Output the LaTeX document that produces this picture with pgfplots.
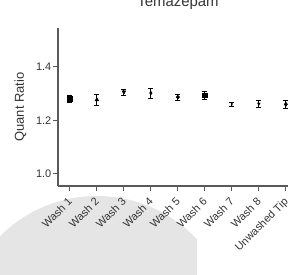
\documentclass[border=0pt]{standalone}
\usepackage{fontspec}
\setmainfont{Liberation Sans}
\usepackage{pgfplots}
\pgfplotsset{compat=1.18}
\begin{document}
\begin{tikzpicture}[x=1bp,y=1bp]
\clip (0,0) rectangle (288,275);
% light grey background blob (as in reference)
\begin{scope}
\clip (0,0) rectangle (197,275);
\fill[black!10] (97,-58) circle (137);
\end{scope}
\begin{axis}[
  at={(58bp,89bp)}, anchor=south west,
  scale only axis, width=241.9bp, height=158bp,
  xmin=-0.44, xmax=8.52, ymin=0.955, ymax=1.545,
  axis x line*=bottom, axis y line*=left,
  axis line style={line width=1.1bp, black!65},
  every tick/.style={line width=0.9bp, black!65},
  tick align=outside, major tick length=5bp,
  xtick={0,...,8},
  xticklabels={Wash 1,Wash 2,Wash 3,Wash 4,Wash 5,Wash 6,Wash 7,Wash 8,Unwashed Tip},
  xticklabel style={rotate=45, anchor=north east, xshift=-5bp, yshift=-1bp, font=\fontsize{11}{12}\selectfont, text=black!80, inner sep=1bp},
  ytick={1.0,1.2,1.4},
  yticklabels={1.0,1.2,1.4},
  yticklabel style={font=\fontsize{11}{12}\selectfont, text=black!80, inner sep=1.5bp},
  ylabel={Quant Ratio},
  ylabel style={at={(axis description cs:-0.155,0.5)}, anchor=center, rotate=0, font=\fontsize{13}{14}\selectfont, text=black!80},
  title={Temazepam},
  title style={at={(axis description cs:0.496,1)}, anchor=base, yshift=16bp, font=\fontsize{15}{16}\selectfont, text=black!80},
  clip=false,
]
\pgfplotsset{myeb/.style={only marks, black, mark size=2.2bp,
  error bars/y dir=both, error bars/y explicit,
  error bars/error bar style={line width=0.8bp, black},
  error bars/error mark options={rotate=90, mark size=2.6bp, line width=0.8bp, black}}}
\addplot[myeb, mark=square*] coordinates {(0,1.281) +- (0,0.013)};
\addplot[myeb, mark=triangle*] coordinates {(1,1.277) +- (0,0.020)};
\addplot[myeb, mark=triangle*, mark options={rotate=180}] coordinates {(2,1.306) +- (0,0.011)};
\addplot[myeb, mark=diamond*, mark size=1.8bp] coordinates {(3,1.302) +- (0,0.019)};
\addplot[myeb, mark=*, mark size=1.8bp] coordinates {(4,1.287) +- (0,0.011)};
\addplot[myeb, mark=square*] coordinates {(5,1.293) +- (0,0.016)};
\addplot[myeb, mark=x, mark size=1.6bp] coordinates {(6,1.260) +- (0,0.009)};
\addplot[myeb, mark=triangle*, mark options={rotate=180}, mark size=1.6bp] coordinates {(7,1.262) +- (0,0.014)};
\addplot[myeb, mark=diamond*] coordinates {(8,1.260) +- (0,0.016)};
\end{axis}
\end{tikzpicture}
\end{document}
